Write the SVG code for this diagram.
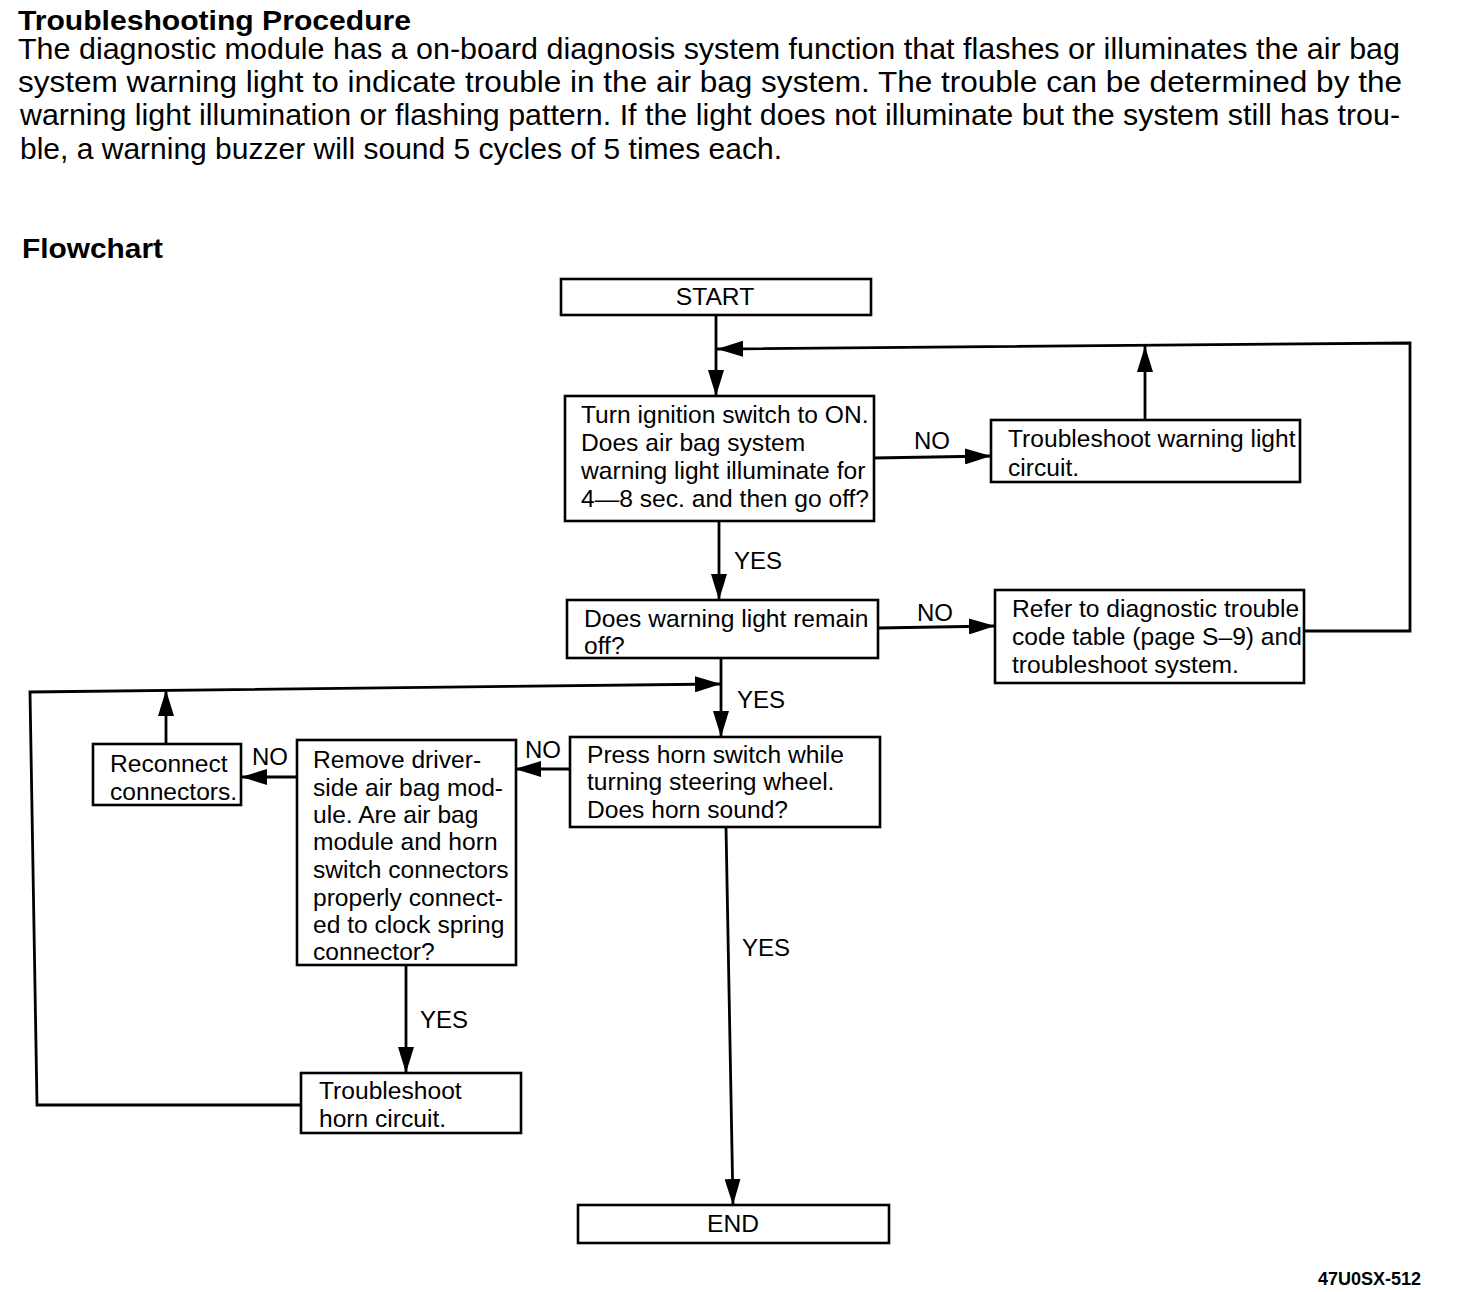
<svg xmlns="http://www.w3.org/2000/svg" width="1472" height="1292" viewBox="0 0 1472 1292">
<style>
text{font-family:"Liberation Sans",Arial,Helvetica,sans-serif;fill:#000}
.p{font-size:29px}
.h{font-size:28px;font-weight:bold}
.n{font-size:24.6px}
.l{font-size:24px}
.c{text-anchor:middle}
.box{fill:#fff;stroke:#000;stroke-width:2.6}
.con{fill:none;stroke:#000;stroke-width:2.8}
.ref{font-size:18px;font-weight:bold}
</style>
<defs>
<marker id="ah" markerUnits="userSpaceOnUse" viewBox="0 0 26 16" markerWidth="26" markerHeight="16" refX="26" refY="8" orient="auto">
<path d="M0,0 L26,8 L0,16 Z" fill="#000"/>
</marker>
</defs>
<rect width="1472" height="1292" fill="#fff"/>

<g id="header">
<text class="h" x="18" y="30" textLength="393" lengthAdjust="spacingAndGlyphs">Troubleshooting Procedure</text>
<text class="p" x="18" y="59" textLength="1382" lengthAdjust="spacingAndGlyphs">The diagnostic module has a on-board diagnosis system function that flashes or illuminates the air bag</text>
<text class="p" x="18" y="92" textLength="1384" lengthAdjust="spacingAndGlyphs">system warning light to indicate trouble in the air bag system.  The trouble can be determined by the</text>
<text class="p" x="20" y="125" textLength="1380" lengthAdjust="spacingAndGlyphs">warning light illumination or flashing pattern.  If the light does not illuminate but the system still has trou-</text>
<text class="p" x="20" y="159" textLength="762" lengthAdjust="spacingAndGlyphs">ble, a warning buzzer will sound 5 cycles of 5 times each.</text>
<text class="h" x="22" y="258" textLength="141" lengthAdjust="spacingAndGlyphs">Flowchart</text>
</g>

<g id="connectors">
<line class="con" x1="716" y1="315" x2="716" y2="396" marker-end="url(#ah)"/>
<polyline class="con" points="1304,631 1410,631 1410,343 717,349" marker-end="url(#ah)"/>
<line class="con" x1="1145" y1="420" x2="1145" y2="346" marker-end="url(#ah)"/>
<line class="con" x1="874" y1="458" x2="991" y2="456" marker-end="url(#ah)"/>
<line class="con" x1="719" y1="521" x2="719" y2="600" marker-end="url(#ah)"/>
<line class="con" x1="878" y1="628" x2="995" y2="626" marker-end="url(#ah)"/>
<line class="con" x1="721" y1="658" x2="721" y2="737" marker-end="url(#ah)"/>
<polyline class="con" points="301,1105 37,1105 30,692 721,684" marker-end="url(#ah)"/>
<line class="con" x1="166" y1="744" x2="166" y2="690" marker-end="url(#ah)"/>
<line class="con" x1="570" y1="769" x2="515" y2="769" marker-end="url(#ah)"/>
<line class="con" x1="297" y1="777" x2="241" y2="777" marker-end="url(#ah)"/>
<line class="con" x1="406" y1="965" x2="406" y2="1073" marker-end="url(#ah)"/>
<line class="con" x1="726" y1="827" x2="733" y2="1205" marker-end="url(#ah)"/>
<text class="l" x="914" y="449">NO</text>
<text class="l" x="734" y="569">YES</text>
<text class="l" x="917" y="621">NO</text>
<text class="l" x="737" y="708">YES</text>
<text class="l" x="525" y="758">NO</text>
<text class="l" x="252" y="765">NO</text>
<text class="l" x="420" y="1028">YES</text>
<text class="l" x="742" y="956">YES</text>
</g>

<g id="start">
<rect class="box" x="561" y="279" width="310" height="36"/>
<text class="n c" x="715" y="305">START</text>
</g>

<g id="ignition">
<rect class="box" x="565" y="396" width="309" height="125"/>
<text class="n" x="581" y="423">Turn ignition switch to ON.</text>
<text class="n" x="581" y="451">Does air bag system</text>
<text class="n" x="581" y="479">warning light illuminate for</text>
<text class="n" x="581" y="507">4—8 sec. and then go off?</text>
</g>

<g id="warning-circuit">
<rect class="box" x="991" y="420" width="309" height="62"/>
<text class="n" x="1008" y="447">Troubleshoot warning light</text>
<text class="n" x="1008" y="476">circuit.</text>
</g>

<g id="remain-off">
<rect class="box" x="567" y="600" width="311" height="58"/>
<text class="n" x="584" y="627">Does warning light remain</text>
<text class="n" x="584" y="654">off?</text>
</g>

<g id="code-table">
<rect class="box" x="995" y="590" width="309" height="93"/>
<text class="n" x="1012" y="617">Refer to diagnostic trouble</text>
<text class="n" x="1012" y="645">code table (page S–9) and</text>
<text class="n" x="1012" y="673">troubleshoot system.</text>
</g>

<g id="horn-switch">
<rect class="box" x="570" y="737" width="310" height="90"/>
<text class="n" x="587" y="763">Press horn switch while</text>
<text class="n" x="587" y="790">turning steering wheel.</text>
<text class="n" x="587" y="818">Does horn sound?</text>
</g>

<g id="remove-module">
<rect class="box" x="297" y="740" width="219" height="225"/>
<text class="n" x="313" y="768">Remove driver-</text>
<text class="n" x="313" y="796">side air bag mod-</text>
<text class="n" x="313" y="823">ule.  Are air bag</text>
<text class="n" x="313" y="850">module and horn</text>
<text class="n" x="313" y="878">switch connectors</text>
<text class="n" x="313" y="906">properly connect-</text>
<text class="n" x="313" y="933">ed to clock spring</text>
<text class="n" x="313" y="960">connector?</text>
</g>

<g id="reconnect">
<rect class="box" x="93" y="744" width="148" height="61"/>
<text class="n" x="110" y="772">Reconnect</text>
<text class="n" x="110" y="800">connectors.</text>
</g>

<g id="horn-circuit">
<rect class="box" x="301" y="1073" width="220" height="60"/>
<text class="n" x="319" y="1099">Troubleshoot</text>
<text class="n" x="319" y="1127">horn circuit.</text>
</g>

<g id="end">
<rect class="box" x="578" y="1205" width="311" height="38"/>
<text class="n c" x="733" y="1232">END</text>
</g>

<text class="ref" x="1318" y="1285">47U0SX-512</text>
</svg>
